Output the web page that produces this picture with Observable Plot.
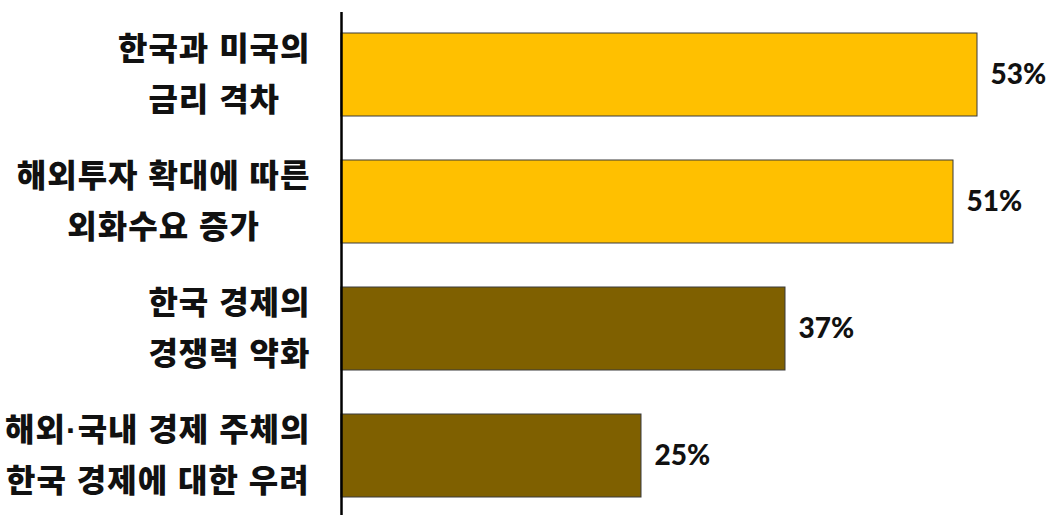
<!DOCTYPE html>
<html>
<head>
<meta charset="utf-8">
<script src="https://cdn.jsdelivr.net/npm/d3@7"></script>
<script src="https://cdn.jsdelivr.net/npm/@observablehq/plot@0.6"></script>
<style>
  html, body { margin: 0; padding: 0; background: #fff; }
  #chart svg { display: block; }
</style>
</head>
<body>
<div id="chart"></div>
<script>
const categories = [
  "한국과 미국의\n금리 격차",
  "해외투자 확대에 따른\n외화수요 증가",
  "한국 경제의\n경쟁력 약화",
  "해외·국내 경제 주체의\n한국 경제에 대한 우려"
];
const values = [53, 51, 37, 25];
const valueLabels = ["53%", "51%", "37%", "25%"];
const barColors = ["#FFC000", "#FFC000", "#7F6000", "#7F6000"];

const data = categories.map((c, i) => ({category: c, value: values[i], label: valueLabels[i], color: barColors[i]}));

const width = 1052, height = 515, marginLeft = 341;
const pxPerUnit = 12;
const xMax = (width - marginLeft) / pxPerUnit;

const chart = Plot.plot({
  width, height,
  marginLeft, marginRight: 0, marginTop: 15, marginBottom: 0,
  style: {background: "#fff", overflow: "visible"},
  x: {domain: [0, xMax], axis: null},
  y: {domain: categories, paddingInner: 0.343, paddingOuter: 0.14, label: null},
  marks: [
    Plot.barX(data, {
      x: "value", y: "category", fill: "color",
      stroke: "#3a3a3a", strokeWidth: 1
    }),
    Plot.text(data, {
      x: "value", y: "category", text: "label",
      textAnchor: "start", dx: 13,
      fontFamily: "Lato", fontWeight: 900, fontSize: 28, fill: "#111"
    }),
    Plot.axisY({
      tickSize: 0, tickPadding: 31, dy: -6,
      fontFamily: "'Liberation Sans', 'Noto Sans CJK KR'", fontWeight: 900, fontSize: 32,
      lineHeight: 1.6, fill: "#111", label: null
    }),
    Plot.ruleX([0], {stroke: "#000", strokeWidth: 2.5, insetTop: -3})
  ]
});

document.getElementById("chart").appendChild(chart);

// Center each multi-line category label within its own block (right edge kept at tick padding)
chart.querySelectorAll('[aria-label="y-axis tick label"] text').forEach(t => {
  t.setAttribute("letter-spacing", "1");
  const spans = Array.from(t.querySelectorAll("tspan"));
  if (!spans.length) return;
  const w = Math.max(...spans.map(s => s.getComputedTextLength()));
  t.setAttribute("text-anchor", "middle");
  spans.forEach(s => s.setAttribute("x", -w / 2));
});
</script>
</body>
</html>
